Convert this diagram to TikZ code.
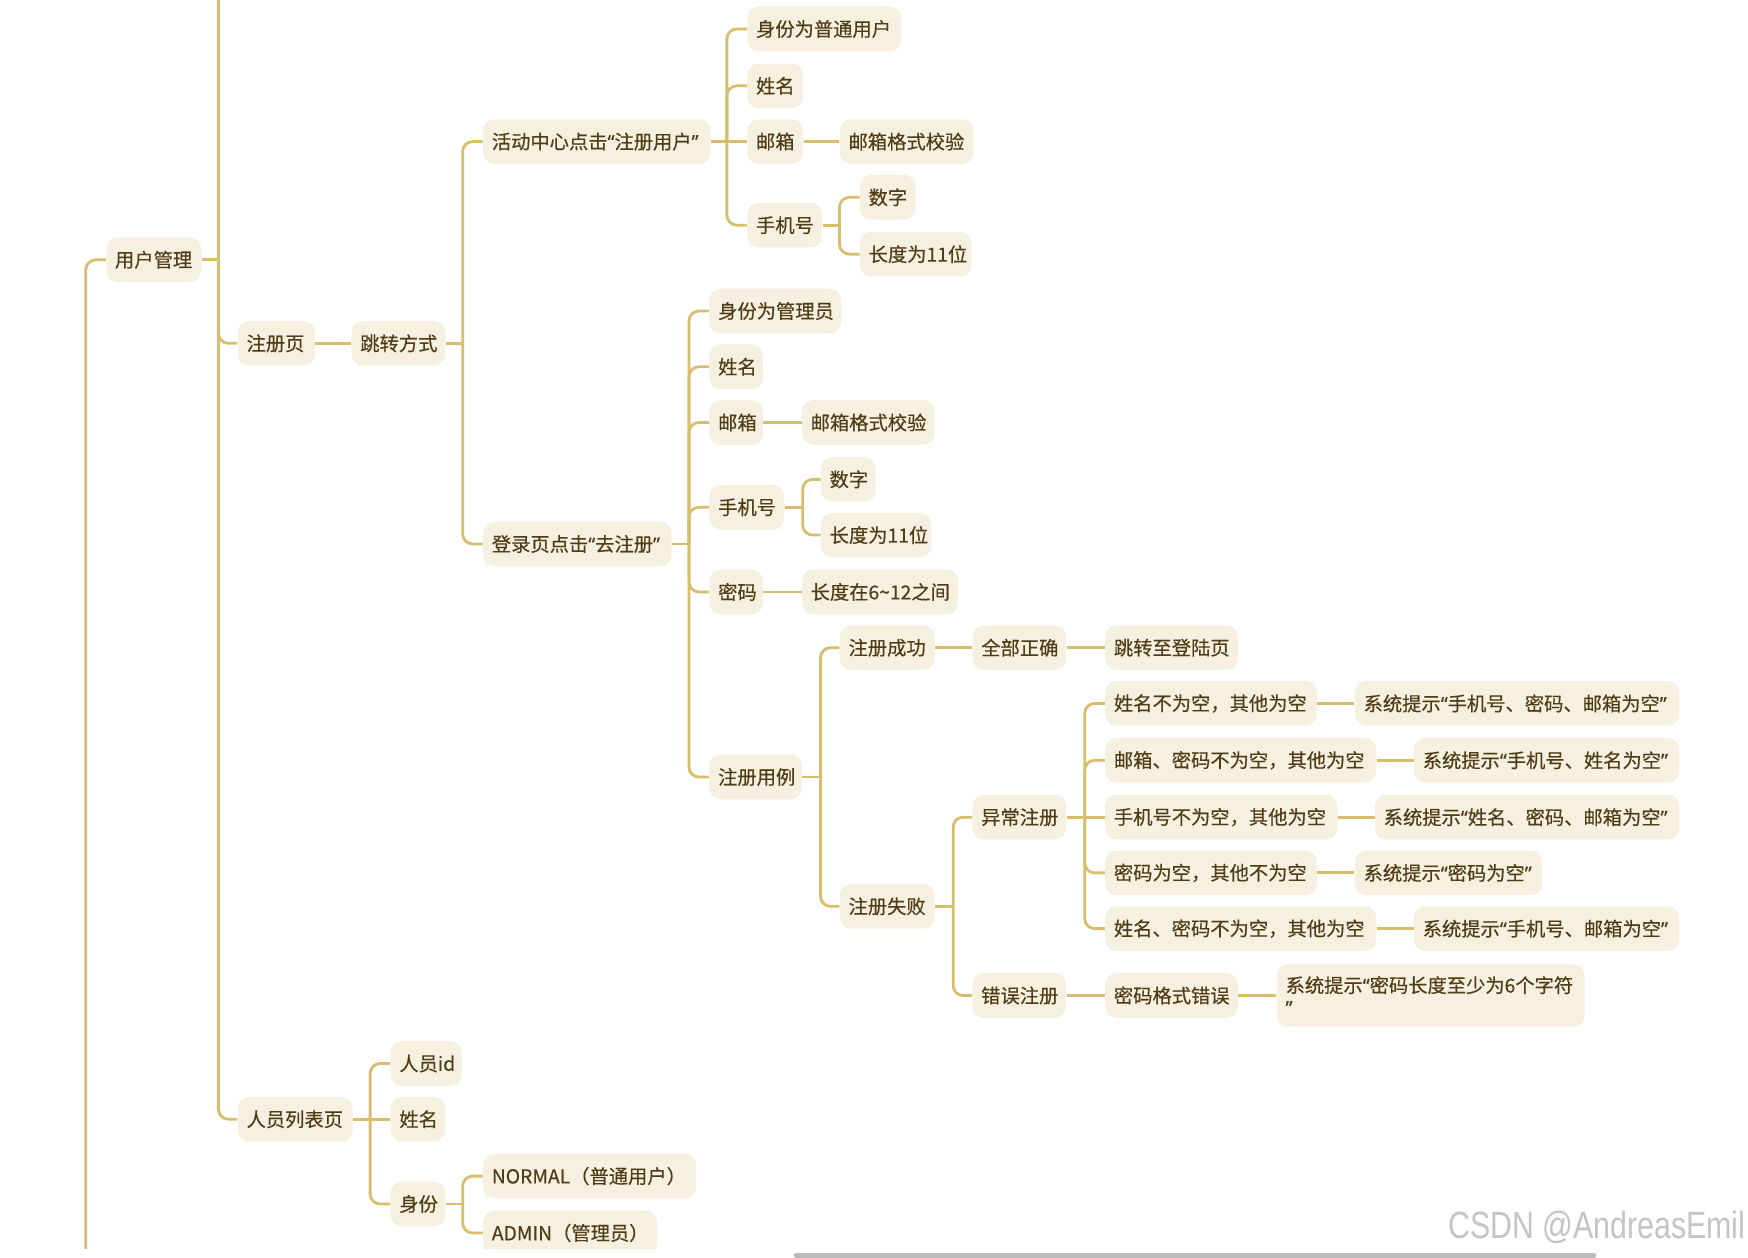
\documentclass[tikz,border=0pt]{standalone}
\usepackage{fontspec}
\setmainfont{Noto Sans CJK SC}[FakeBold=0.35]
\newfontfamily\qfont{Noto Sans}[FakeBold=0.35]
\newfontfamily\wmfont{Liberation Sans}
\newcommand\myql{{\qfont “}}
\newcommand\myqr{{\qfont ”}}
\definecolor{boxfill}{RGB}{245,240,224}
\definecolor{linec}{RGB}{214,190,108}
\definecolor{txtc}{RGB}{80,60,22}
\definecolor{barc}{RGB}{188,188,188}
\definecolor{wmc}{RGB}{196,196,196}
\begin{document}
\begin{tikzpicture}[x=0.5pt,y=-0.5pt,
 nd/.style={fill=boxfill, rounded corners=5pt, inner xsep=3.9pt, inner ysep=0pt,
   minimum height=20pt, text=txtc, font=\fontsize{8.65}{10}\selectfont, align=left, anchor=west},
 w/.code={\pgfmathsetmacro\mytw{#1*0.5-7.8}\edef\mytmp{\noexpand\tikzset{text width=\mytw pt}}\mytmp},
 conn/.style={draw=linec, line width=1.25pt},
 br/.style={conn, rounded corners=4.5pt}]
\useasboundingbox (0,0) rectangle (1568,1128);
\begin{scope}
\clip (0,0) rectangle (1568,1120);
% nodes
\node[nd,w=85] (n0) at (95,233) {用户管理};
\node[nd,w=69] (n1) at (213,308) {注册页};
\node[nd,w=84] (n2) at (315,308) {跳转方式};
\node[nd,w=204] (a) at (433,127) {活动中心点击\myql 注册用户\myqr};
\node[nd,w=138] (a1) at (670,26) {身份为普通用户};
\node[nd,w=50] (a2) at (670,77) {姓名};
\node[nd,w=50] (a3) at (670,127) {邮箱};
\node[nd,w=120] (a3a) at (753,127) {邮箱格式校验};
\node[nd,w=67] (a4) at (670,202) {手机号};
\node[nd,w=50] (a4a) at (771,177) {数字};
\node[nd,w=100] (a4b) at (771,228) {长度为11位};
\node[nd,w=169] (b) at (433,488) {登录页点击\myql 去注册\myqr};
\node[nd,w=118] (b1) at (636,279) {身份为管理员};
\node[nd,w=48] (b2) at (636,329) {姓名};
\node[nd,w=48] (b3) at (636,379) {邮箱};
\node[nd,w=119] (b3a) at (719,379) {邮箱格式校验};
\node[nd,w=67] (b4) at (636,455) {手机号};
\node[nd,w=49] (b4a) at (736,430) {数字};
\node[nd,w=99] (b4b) at (736,480) {长度为11位};
\node[nd,w=48] (b5) at (636,531) {密码};
\node[nd,w=140] (b5a) at (719,531) {长度在6\textasciitilde 12之间};
\node[nd,w=83] (b6) at (636,697) {注册用例};
\node[nd,w=85] (c1) at (753,581) {注册成功};
\node[nd,w=84] (c1a) at (872,581) {全部正确};
\node[nd,w=119] (c1b) at (991,581) {跳转至登陆页};
\node[nd,w=85] (c2) at (753,813) {注册失败};
\node[nd,w=84] (d1) at (872,733) {异常注册};
\node[nd,w=190] (e1) at (991,631) {姓名不为空，其他为空};
\node[nd,w=291] (f1) at (1215,631) {系统提示\myql 手机号、密码、邮箱为空\myqr};
\node[nd,w=243] (e2) at (991,682) {邮箱、密码不为空，其他为空};
\node[nd,w=238] (f2) at (1268,682) {系统提示\myql 手机号、姓名为空\myqr};
\node[nd,w=208] (e3) at (991,733) {手机号不为空，其他为空};
\node[nd,w=273] (f3) at (1233,733) {系统提示\myql 姓名、密码、邮箱为空\myqr};
\node[nd,w=190] (e4) at (991,783) {密码为空，其他不为空};
\node[nd,w=168] (f4) at (1215,783) {系统提示\myql 密码为空\myqr};
\node[nd,w=243] (e5) at (991,833) {姓名、密码不为空，其他为空};
\node[nd,w=238] (f5) at (1268,833) {系统提示\myql 手机号、邮箱为空\myqr};
\node[nd,w=84] (d2) at (872,893) {错误注册};
\node[nd,w=119] (g1) at (991,893) {密码格式错误};
\node[nd,w=276,minimum height=28pt] (g2) at (1145,893) {系统提示\myql 密码长度至少为6个字符\\\myqr};
\node[nd,w=103] (p) at (213,1004) {人员列表页};
\node[nd,w=64] (p1) at (350,954) {人员id};
\node[nd,w=49] (p2) at (350,1004) {姓名};
\node[nd,w=49] (p3) at (350,1080) {身份};
\node[nd,w=191] (p3a) at (433,1055) {NORMAL（普通用户）};
\node[nd,w=156] (p3b) at (433,1106) {ADMIN（管理员）};
% connectors
\coordinate (rootb) at (77,1140);
\draw[br] (rootb) |- (n0.west);
\coordinate (n0v) at (n0.east -| 196,0);
\coordinate (n0top) at (196,-20);
\draw[conn] (n0.east) -- (n0v);
\draw[conn] (n0v) -- (n0top);
\draw[br] (n0v) |- (n1.west);
\draw[br] (n0v) |- (p.west);
\draw[conn] (n1.east) -- (n2.west);
\coordinate (n2v) at (n2.east -| 415,0);
\draw[conn] (n2.east) -- (n2v);
\draw[br] (n2v) |- (a.west);
\draw[br] (n2v) |- (b.west);
% group a
\coordinate (av) at (a.east -| 652,0);
\draw[conn] (a.east) -- (av) -- (a3.west);
\draw[br] (av) |- (a1.west);
\draw[br] (av) |- (a2.west);
\draw[br] (av) |- (a4.west);
\draw[conn] (a3.east) -- (a3a.west);
\coordinate (a4v) at (a4.east -| 753,0);
\draw[conn] (a4.east) -- (a4v);
\draw[br] (a4v) |- (a4a.west);
\draw[br] (a4v) |- (a4b.west);
% group b
\coordinate (bv) at (b.east -| 618,0);
\draw[conn] (b.east) -- (bv);
\foreach \c in {b1,b2,b3,b4,b5,b6} {\draw[br] (bv) |- (\c.west);}
\draw[conn] (b3.east) -- (b3a.west);
\coordinate (b4v) at (b4.east -| 720,0);
\draw[conn] (b4.east) -- (b4v);
\draw[br] (b4v) |- (b4a.west);
\draw[br] (b4v) |- (b4b.west);
\draw[conn] (b5.east) -- (b5a.west);
\coordinate (b6v) at (b6.east -| 736,0);
\draw[conn] (b6.east) -- (b6v);
\draw[br] (b6v) |- (c1.west);
\draw[br] (b6v) |- (c2.west);
\draw[conn] (c1.east) -- (c1a.west);
\draw[conn] (c1a.east) -- (c1b.west);
\coordinate (c2v) at (c2.east -| 855,0);
\draw[conn] (c2.east) -- (c2v);
\draw[br] (c2v) |- (d1.west);
\draw[br] (c2v) |- (d2.west);
\coordinate (d1v) at (d1.east -| 973,0);
\draw[conn] (d1.east) -- (d1v) -- (e3.west);
\foreach \c in {e1,e2,e4,e5} {\draw[br] (d1v) |- (\c.west);}
\draw[conn] (e1.east) -- (f1.west);
\draw[conn] (e2.east) -- (f2.west);
\draw[conn] (e3.east) -- (f3.west);
\draw[conn] (e4.east) -- (f4.west);
\draw[conn] (e5.east) -- (f5.west);
\draw[conn] (d2.east) -- (g1.west);
\draw[conn] (g1.east) -- (g2.west);
% group p
\coordinate (pv) at (p.east -| 332,0);
\draw[conn] (p.east) -- (pv) -- (p2.west);
\draw[br] (pv) |- (p1.west);
\draw[br] (pv) |- (p3.west);
\coordinate (p3v) at (p3.east -| 415,0);
\draw[conn] (p3.east) -- (p3v);
\draw[br] (p3v) |- (p3a.west);
\draw[br] (p3v) |- (p3b.west);
\end{scope}
% scrollbar and watermark
\coordinate (sb1) at (714,1126);
\coordinate (sb2) at (1430,1126);
\draw[barc, line width=2pt, line cap=round] (sb1) -- (sb2);
\node[anchor=east, inner sep=0pt, text=wmc, font=\wmfont\fontsize{17}{17}\selectfont] (wm) at (1566,1101) {\scalebox{0.8}[1]{CSDN @AndreasEmil}};
\end{tikzpicture}
\end{document}
